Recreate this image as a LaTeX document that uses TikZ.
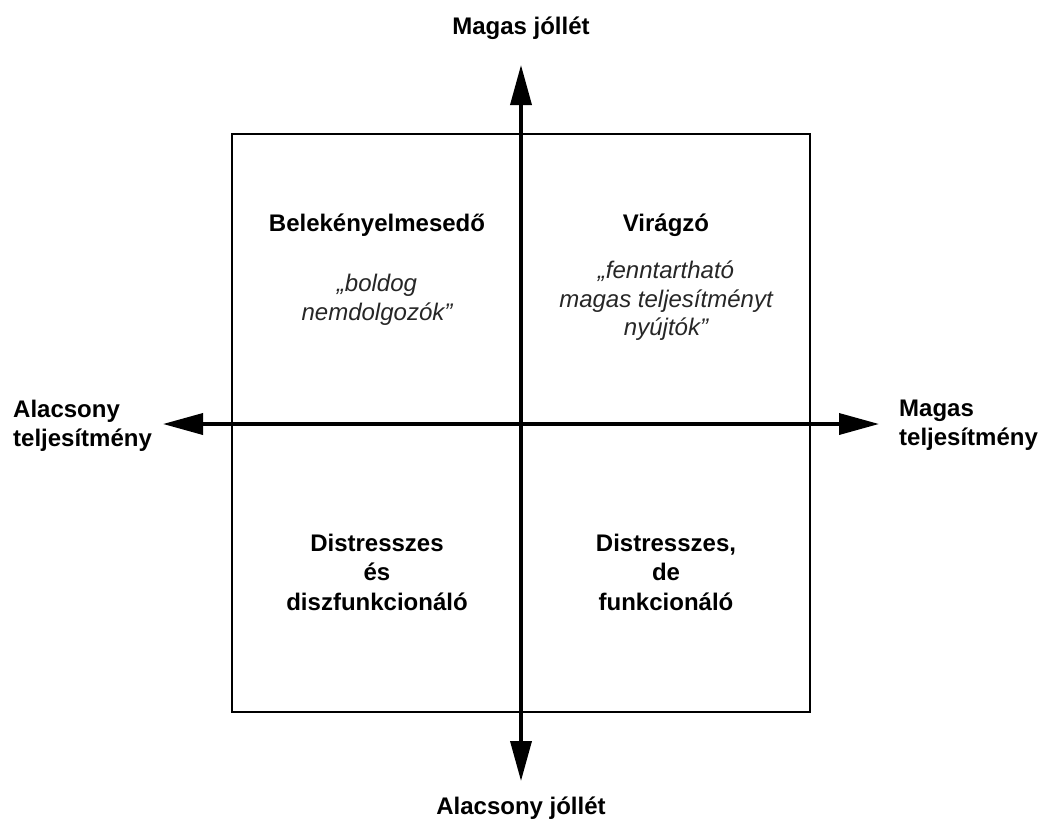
\documentclass[tikz,border=0pt]{standalone}
\usepackage{fontspec}
\setmainfont{Liberation Sans}
\usetikzlibrary{arrows.meta}
\begin{document}
\begin{tikzpicture}[x=1pt,y=-1pt,
  axis/.style={line width=3.6pt,-{Triangle[length=40pt,width=21pt]}},
  lbl/.style={font=\fontsize{24}{28.5}\selectfont\bfseries,inner sep=0pt},
  quad/.style={font=\fontsize{24}{29.5}\selectfont\bfseries,align=center,inner sep=0pt},
  quote/.style={font=\fontsize{24}{28.5}\selectfont\itshape,align=center,inner sep=0pt,text=black!85}]
\useasboundingbox (0,0) rectangle (1045,831);
\node[draw,line width=2pt,minimum width=578pt,minimum height=578pt,inner sep=0pt] (box) at (521,423) {};
\coordinate (o) at (521,424);
\coordinate (top) at (521,65);
\coordinate (bot) at (521,781);
\coordinate (lft) at (163,424);
\coordinate (rgt) at (879,424);
\draw[axis] (o) -- (top);
\draw[axis] (o) -- (bot);
\draw[axis] (o) -- (lft);
\draw[axis] (o) -- (rgt);
\node[lbl,anchor=base] (hi) at (521,34) {Magas jóllét};
\node[lbl,anchor=base] (lo) at (521,814) {Alacsony jóllét};
\node[lbl,anchor=north west,align=left] (lp) at (13,400) {Alacsony\\teljesítmény};
\node[lbl,anchor=north west,align=left] (hp) at (899,400) {Magas\\teljesítmény};
\node[quad,anchor=base] (q1) at (377,231) {Belekényelmesedő};
\node[quote,anchor=north] (q1t) at (377,274) {„boldog\\nemdolgozók”};
\node[quad,anchor=base] (q2) at (666,231) {Virágzó};
\node[quote,anchor=north] (q2t) at (666,261) {„fenntartható\\magas teljesítményt\\nyújtók”};
\node[quad] (q3) at (377,572) {Distresszes\\és\\diszfunkcionáló};
\node[quad] (q4) at (666,572) {Distresszes,\\de\\funkcionáló};
\end{tikzpicture}
\end{document}
